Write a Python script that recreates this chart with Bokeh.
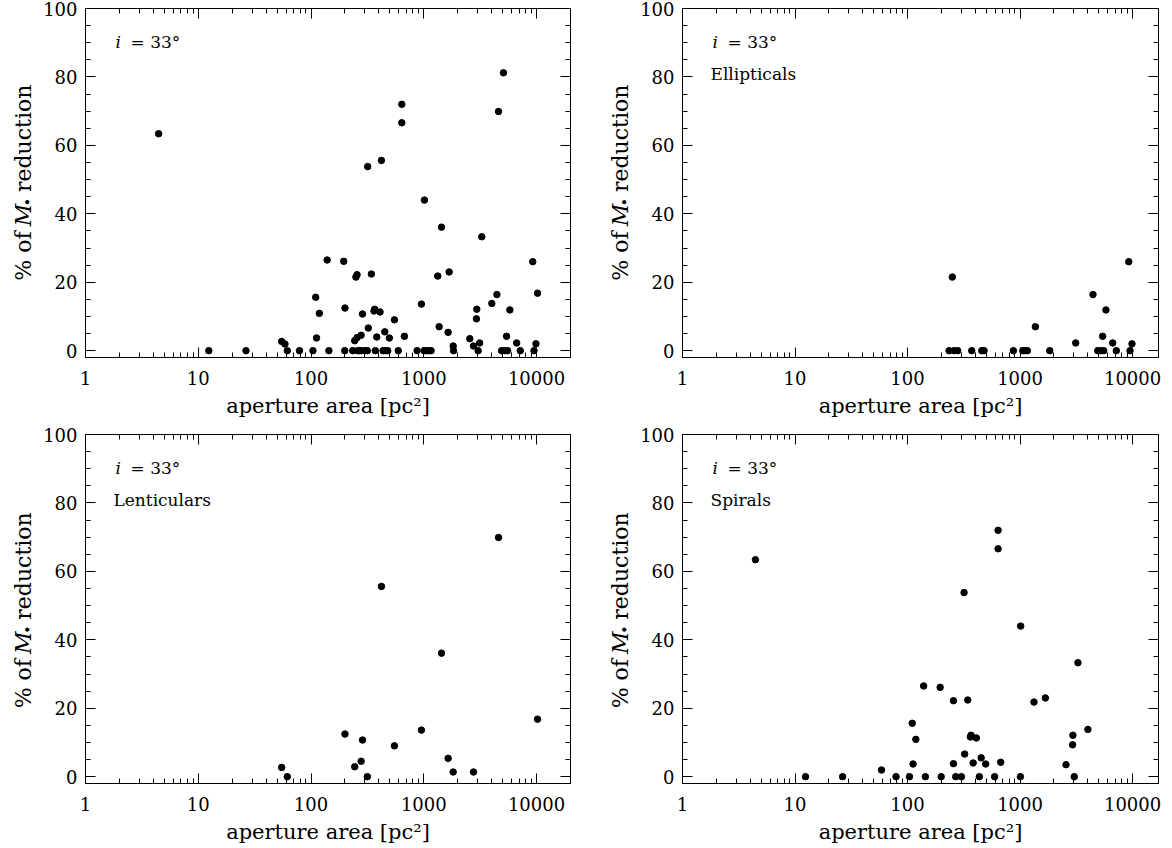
import math
from bokeh.plotting import figure
from bokeh.models import (Range1d, LogAxis, LinearAxis, FixedTicker, SingleIntervalTicker,
                          Label, ColumnDataSource, NumeralTickFormatter, CustomJSTickFormatter)
from bokeh.core.properties import value
from bokeh.layouts import column, row
from bokeh.embed import file_html
from bokeh.resources import INLINE

# ---------------- data (aperture area [pc^2], % of M_bh reduction) ----------------
ell_area = [234, 250, 259, 279, 372, 457, 479, 873, 1057, 1107, 1161, 1368, 1836, 3125,
            4450, 4900, 5210, 5420, 5540, 5800, 6660, 7170, 9250, 9490, 9880]
ell_red = [0, 21.5, 0, 0, 0, 0, 0, 0, 0, 0, 0, 7.0, 0, 2.25,
           16.4, 0, 0, 4.2, 0, 11.9, 2.25, 0, 26.0, 0, 2.0]

len_area = [54.9, 61.6, 200, 244, 278, 286, 316, 421, 549, 953, 1436, 1644, 1822, 2760, 4600, 10200]
len_red = [2.7, 0, 12.45, 2.9, 4.5, 10.7, 0, 55.6, 9.0, 13.6, 36.1, 5.35, 1.36, 1.36, 69.9, 16.8]

spi_area = [4.45, 12.4, 26.5, 58.7, 79, 104, 110, 112, 118.5, 139, 144, 195, 199, 256, 256,
            268, 301, 318, 322, 343, 362, 367, 383, 409, 435, 451, 495, 594, 638, 638,
            673, 1007, 1013, 1330, 1678, 2560, 2930, 2950, 3033, 3270, 4010]
spi_red = [63.4, 0, 0, 1.95, 0, 0, 15.6, 3.7, 10.9, 26.5, 0, 26.1, 0, 22.2, 3.8,
           0, 0, 53.8, 6.6, 22.4, 11.6, 12.1, 4.0, 11.3, 0, 5.5, 3.7, 0, 72.0, 66.6,
           4.2, 0, 44.0, 21.8, 23.0, 3.5, 9.3, 12.1, 0, 33.3, 13.8]

# galaxy shown only in the full sample
oth_area = [5085]
oth_red = [81.2]

x_ticks = [1, 10, 100, 1000, 10000]
y_tick_step = 20
incl_label = "= 33°"
x_label = "aperture area [pc²]"
y_label_parts = ["% of", "M", "•", "reduction"]
panel_titles = ["", "Ellipticals", "Lenticulars", "Spirals"]

FONT = "DejaVu Serif"
Y0, Y1 = -2, 100
LABEL_PX = 21
YLAB_PX = 22


def px_to_x(px, fw, xend):
    return 10 ** (px * math.log10(xend) / fw)


def px_to_y(px_from_top, fh):
    return Y1 - px_from_top * (Y1 - Y0) / fh


def make_panel(area, red, title, W, bl, br, bt, bb, xend):
    H = 424
    fw = W - bl - br
    fh = H - bt - bb
    p = figure(width=W, height=H, x_axis_type="log",
               x_range=Range1d(1, xend), y_range=Range1d(Y0, Y1),
               output_backend="svg", toolbar_location=None,
               min_border_left=bl, min_border_right=br,
               min_border_top=bt, min_border_bottom=bb)
    p.grid.visible = False
    p.outline_line_color = "black"
    p.outline_line_width = 1
    p.background_fill_color = "white"
    p.border_fill_color = "white"

    minor = [m * 10 ** k for k in range(5) for m in range(2, 10)]
    xt = FixedTicker(ticks=x_ticks, minor_ticks=minor)
    yt = SingleIntervalTicker(interval=y_tick_step, num_minor_ticks=4)

    def style(ax, labels=True):
        ax.axis_line_color = "black"
        ax.major_tick_line_color = "black"
        ax.minor_tick_line_color = "black"
        ax.major_tick_out = 0
        ax.minor_tick_out = 0
        ax.major_tick_in = 10
        ax.minor_tick_in = 5
        if labels:
            ax.major_label_text_font = FONT
            ax.major_label_text_font_size = "18px"
            ax.major_label_text_color = "black"
        else:
            ax.formatter = CustomJSTickFormatter(code="return ''")
            ax.major_label_text_font_size = "1px"
            ax.major_label_standoff = 0

    xa = p.xaxis[0]
    xa.ticker = xt
    xa.formatter = NumeralTickFormatter(format="0")
    style(xa)
    xa.major_label_standoff = 13
    xa.axis_label = x_label
    xa.axis_label_text_font = FONT
    xa.axis_label_text_font_size = f"{LABEL_PX}px"
    xa.axis_label_text_font_style = "normal"
    xa.axis_label_text_color = "black"
    xa.axis_label_standoff = 6

    ya = p.yaxis[0]
    ya.ticker = yt
    style(ya)
    ya.major_label_standoff = 8

    top = LogAxis(ticker=FixedTicker(ticks=x_ticks, minor_ticks=minor))
    style(top, labels=False)
    p.add_layout(top, "above")
    right = LinearAxis(ticker=SingleIntervalTicker(interval=y_tick_step, num_minor_ticks=4))
    style(right, labels=False)
    p.add_layout(right, "right")

    src = ColumnDataSource(dict(x=area, y=red))
    p.scatter("x", "y", source=src, size=6.5, color="black")

    # inclination annotation
    p.add_layout(Label(x=px_to_x(30, fw, xend), y=px_to_y(33, fh), text="i",
                       text_font=FONT, text_font_size="17px", text_font_style="italic",
                       text_baseline="middle", text_align="left", text_color="black"))
    p.add_layout(Label(x=px_to_x(45, fw, xend), y=px_to_y(33, fh), text=incl_label,
                       text_font=FONT, text_font_size="17px",
                       text_baseline="middle", text_align="left", text_color="black"))
    if title:
        p.add_layout(Label(x=px_to_x(28, fw, xend), y=px_to_y(65, fh), text=title,
                           text_font=FONT, text_font_size="17px",
                           text_baseline="middle", text_align="left", text_color="black"))
    return p


def ylabel_fig(W, xc, m_center_from_top):
    """Narrow strip holding the rotated y-axis label '% of M• reduction'.
    Coordinates are pixels: x from the left, y measured upward from the bottom."""
    H = 424
    f = figure(width=W, height=H, x_range=Range1d(0, W), y_range=Range1d(0, H),
               x_axis_location=None, y_axis_location=None,
               output_backend="svg", toolbar_location=None,
               min_border_left=0, min_border_right=0, min_border_top=0, min_border_bottom=0)
    f.grid.visible = False
    f.outline_line_color = None
    f.background_fill_color = "white"
    f.border_fill_color = "white"
    sub_px = 14
    gap = 9
    m_w = 0.98 * YLAB_PX
    yc = H - m_center_from_top          # centre of the italic M (upward coords)
    m_lo, m_hi = yc - m_w / 2, yc + m_w / 2
    bullet_hi = m_hi + 0.59 * sub_px
    common = dict(angle=math.pi / 2, text_font=value(FONT), text_baseline="middle",
                  text_color="black")
    # "% of" ends just below the M
    f.text(x=[xc], y=[m_lo - gap], text=[y_label_parts[0]], text_align="right",
           text_font_size=f"{YLAB_PX}px", **common)
    # italic M
    f.text(x=[xc], y=[yc], text=[y_label_parts[1]], text_align="center",
           text_font_size=f"{YLAB_PX}px", text_font_style="italic", **common)
    # subscript bullet
    f.text(x=[xc + 4], y=[m_hi], text=[y_label_parts[2]], text_align="left",
           text_font_size=f"{sub_px}px", **common)
    # "reduction"
    f.text(x=[xc], y=[bullet_hi + gap], text=[y_label_parts[3]], text_align="left",
           text_font_size=f"{YLAB_PX}px", **common)
    return f


all_area = ell_area + len_area + spi_area + oth_area
all_red = ell_red + len_red + spi_red + oth_red

LW, RW = 36, 46
l1 = ylabel_fig(LW, 23, 251)
p1 = make_panel(all_area, all_red, panel_titles[0], 586 - LW, 85 - LW, 16, 8, 67, 20000)
l2 = ylabel_fig(RW, 34, 251)
p2 = make_panel(ell_area, ell_red, panel_titles[1], 586 - RW, 96 - RW, 14, 8, 67, 17000)
l3 = ylabel_fig(LW, 23, 253)
p3 = make_panel(len_area, len_red, panel_titles[2], 586 - LW, 85 - LW, 16, 10, 65, 20000)
l4 = ylabel_fig(RW, 34, 253)
p4 = make_panel(spi_area, spi_red, panel_titles[3], 586 - RW, 96 - RW, 14, 10, 65, 17000)

layout = column(row(l1, p1, l2, p2), row(l3, p3, l4, p4))
open("out.html", "w").write(file_html(layout, INLINE))
